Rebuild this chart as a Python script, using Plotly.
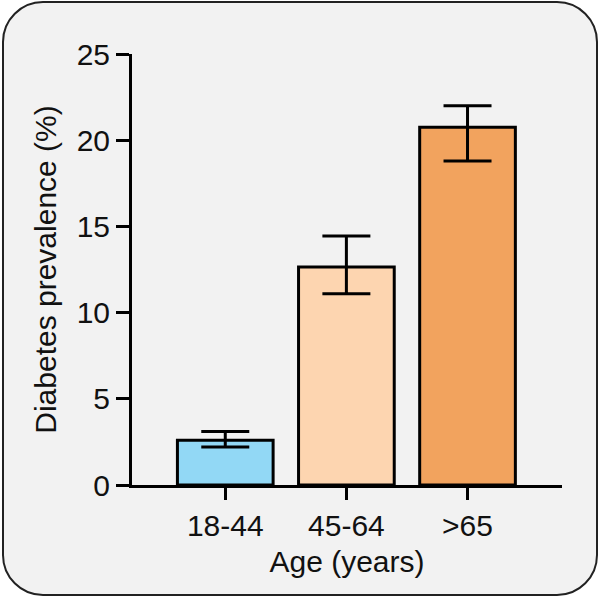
import plotly.graph_objects as go

categories = ["18-44", "45-64", ">65"]
prevalence = [2.6, 12.65, 20.75]
err_plus = [0.5, 1.8, 1.25]
err_minus = [0.4, 1.55, 1.95]
bar_colors = ["#92D8F5", "#FDD5B0", "#F2A35E"]
y_ticks = [0, 5, 10, 15, 20, 25]

W, H = 600, 598
L, R, T, B = 132, 38, 54, 113
pw, ph = W - L - R, H - T - B

def px2paper(x, y):
    return (x - L) / pw, (H - B - y) / ph

def rounded_rect(x0, y0, x1, y1, r):
    k = 0.5523 * r
    def P(x, y):
        px, py = px2paper(x, y)
        return f"{px:.5f},{py:.5f}"
    d = f"M {P(x0 + r, y0)} L {P(x1 - r, y0)} "
    d += f"C {P(x1 - r + k, y0)} {P(x1, y0 + r - k)} {P(x1, y0 + r)} "
    d += f"L {P(x1, y1 - r)} "
    d += f"C {P(x1, y1 - r + k)} {P(x1 - r + k, y1)} {P(x1 - r, y1)} "
    d += f"L {P(x0 + r, y1)} "
    d += f"C {P(x0 + r - k, y1)} {P(x0, y1 - r + k)} {P(x0, y1 - r)} "
    d += f"L {P(x0, y0 + r)} "
    d += f"C {P(x0, y0 + r - k)} {P(x0 + r - k, y0)} {P(x0 + r, y0)} Z"
    return d

font_family = "Liberation Sans, Arial, sans-serif"
FS = 30

fig = go.Figure(
    go.Bar(
        x=categories,
        y=prevalence,
        width=0.79,
        marker=dict(color=bar_colors, line=dict(color="#000000", width=3)),
        error_y=dict(
            type="data",
            symmetric=False,
            array=err_plus,
            arrayminus=err_minus,
            color="#000000",
            thickness=3,
            width=24,
        ),
    )
)

fig.update_layout(
    width=W,
    height=H,
    margin=dict(l=L, r=R, t=T, b=B, autoexpand=False),
    paper_bgcolor="#ffffff",
    plot_bgcolor="rgba(0,0,0,0)",
    font=dict(family=font_family, size=FS, color="#111111"),
    showlegend=False,
    shapes=[
        dict(
            type="path",
            xref="paper",
            yref="paper",
            path=rounded_rect(3, 2, 597, 595, 40),
            fillcolor="#f2f2f2",
            line=dict(color="#222222", width=2),
            layer="below",
        )
    ],
    xaxis=dict(
        type="category",
        range=[-0.77, 2.78],
        showgrid=False,
        zeroline=False,
        showline=True,
        linecolor="#000000",
        linewidth=3,
        ticks="outside",
        ticklen=12,
        tickwidth=2.5,
        tickcolor="#000000",
        tickfont=dict(size=FS),
        title=dict(text="Age (years)", font=dict(size=FS), standoff=10),
    ),
    yaxis=dict(
        range=[0, 25],
        tickvals=y_ticks,
        showgrid=False,
        zeroline=False,
        showline=True,
        linecolor="#000000",
        linewidth=3,
        ticks="outside",
        ticklen=13,
        tickwidth=2.5,
        tickcolor="#000000",
        tickfont=dict(size=FS),
        title=dict(text="Diabetes prevalence (%)", font=dict(size=FS), standoff=12),
    ),
)

fig.write_html(
    "out.html",
    config={"displayModeBar": False},
    post_script="document.body.style.margin='0';document.body.style.padding='0';",
)
